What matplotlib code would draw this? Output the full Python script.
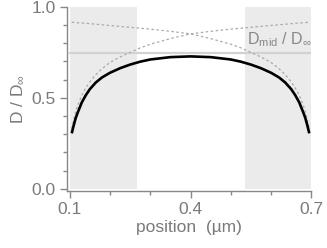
import matplotlib
matplotlib.use("Agg")
import matplotlib.pyplot as plt
from matplotlib.ticker import FixedLocator

plt.rcParams['font.family'] = ['Liberation Sans', 'DejaVu Sans']
plt.rcParams['mathtext.fontset'] = 'custom'
plt.rcParams['mathtext.rm'] = 'Liberation Sans'
plt.rcParams['mathtext.it'] = 'Liberation Sans'
plt.rcParams['mathtext.bf'] = 'Liberation Sans:bold'

# position (µm)
x_pos = [0.105, 0.11, 0.115, 0.12, 0.13, 0.14, 0.15, 0.165, 0.18, 0.2, 0.225, 0.25,
         0.275, 0.3, 0.35, 0.4, 0.45, 0.5, 0.525, 0.55, 0.575, 0.6, 0.62, 0.635,
         0.65, 0.66, 0.67, 0.68, 0.685, 0.69, 0.695]

# D / D_inf between two walls (black)
d_total = [0.305, 0.35, 0.39, 0.42, 0.475, 0.515, 0.548, 0.585, 0.612, 0.638, 0.663, 0.683,
           0.699, 0.711, 0.724, 0.728, 0.724, 0.711, 0.699, 0.683, 0.663, 0.638, 0.612, 0.585,
           0.548, 0.515, 0.475, 0.42, 0.39, 0.35, 0.305]

# single wall (left) hindrance, dotted
d_left_wall = [0.33, 0.38, 0.425, 0.46, 0.515, 0.555, 0.588, 0.628, 0.66, 0.695, 0.725, 0.75,
               0.775, 0.795, 0.826, 0.852, 0.866, 0.878, 0.883, 0.888, 0.893, 0.898, 0.902, 0.905,
               0.908, 0.91, 0.912, 0.913, 0.914, 0.915, 0.916]

# single wall (right) hindrance, dotted
d_right_wall = [0.916, 0.915, 0.914, 0.913, 0.912, 0.91, 0.908, 0.905, 0.902, 0.898, 0.893, 0.888,
                0.883, 0.878, 0.866, 0.852, 0.826, 0.795, 0.775, 0.75, 0.725, 0.695, 0.66, 0.628,
                0.588, 0.555, 0.515, 0.46, 0.425, 0.38, 0.33]

d_mid = 0.744
shade_left = (0.1, 0.267)
shade_right = (0.536, 0.7)

fig = plt.figure(figsize=(3.27, 2.48), dpi=100)
ax = fig.add_axes([0.204, 0.230, 0.748, 0.742])

gray_txt = '#7a7a7a'
for a, b in (shade_left, shade_right):
    ax.fill_between([a, b], 0, 1, color='#ebebeb', lw=0, zorder=0)

ax.plot([0.1, 0.7], [d_mid, d_mid], color='#d2d2d2', lw=1.6, zorder=1)
ax.plot(x_pos, d_left_wall, color='#aaaaaa', lw=0.9, ls=(0, (2, 2)), zorder=2)
ax.plot(x_pos, d_right_wall, color='#aaaaaa', lw=0.9, ls=(0, (2, 2)), zorder=2)
ax.plot(x_pos, d_total, color='black', lw=1.9, zorder=3, solid_capstyle='butt')

ax.text(0.701, d_mid + 0.022, r'$\mathregular{D_{mid}}$ / D$_{\infty}$', color='#888888',
        fontsize=11.5, ha='right', va='bottom')

ax.set_xlim(0.0925, 0.7)
ax.set_ylim(-0.012, 1.0)
ax.spines['top'].set_visible(False)
ax.spines['right'].set_visible(False)
for s in ('left', 'bottom'):
    ax.spines[s].set_color('#888888')
    ax.spines[s].set_linewidth(1.0)

ax.xaxis.set_major_locator(FixedLocator([0.1, 0.4, 0.7]))
ax.xaxis.set_minor_locator(FixedLocator([0.2, 0.3, 0.5, 0.6]))
ax.yaxis.set_major_locator(FixedLocator([0.0, 0.5, 1.0]))
ax.yaxis.set_minor_locator(FixedLocator([0.1, 0.2, 0.3, 0.4, 0.6, 0.7, 0.8, 0.9]))
ax.set_xticklabels(['0.1', '0.4', '0.7'])
ax.set_yticklabels(['0.0', '0.5', '1.0'])
ax.tick_params(which='major', length=5, width=1.0, color='#888888', labelcolor=gray_txt,
               labelsize=12.5, pad=3)
ax.tick_params(which='minor', length=3, width=1.0, color='#888888')

ax.set_xlabel('position  (µm)', color=gray_txt, fontsize=12.5, labelpad=2)
ax.set_ylabel(r'D / D$_{\infty}$', color=gray_txt, fontsize=12.5, labelpad=4)

fig.savefig('out.png', dpi=100)
